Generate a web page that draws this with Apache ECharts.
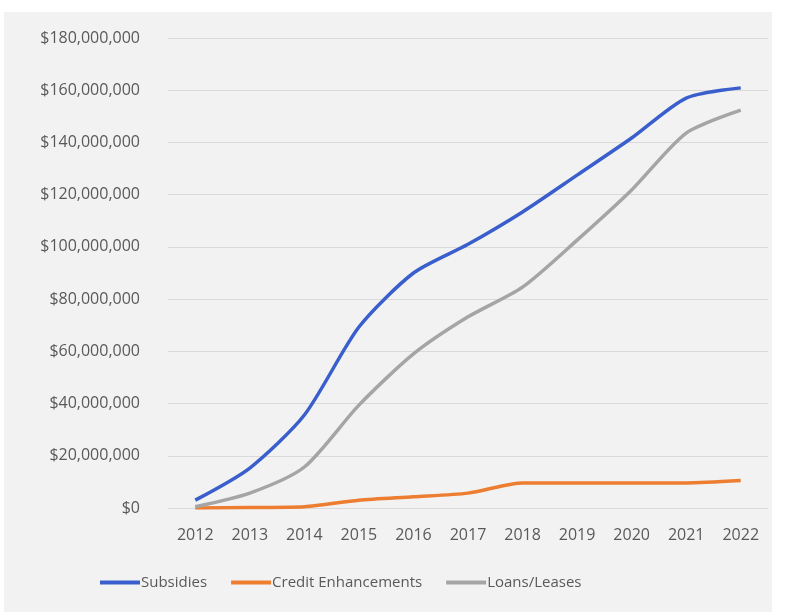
<!DOCTYPE html>
<html>
<head>
<meta charset="utf-8">
<script src="https://cdn.jsdelivr.net/npm/echarts@6/dist/echarts.min.js"></script>
<style>
html,body{margin:0;padding:0;background:#ffffff;}
#frame{position:absolute;left:4px;top:12px;width:768px;height:600px;background:#f2f2f2;}
#chart{position:absolute;left:0;top:0;width:785px;height:615px;}
</style>
</head>
<body>
<div id="frame"></div>
<div id="chart"></div>
<script>
var years = ['2012','2013','2014','2015','2016','2017','2018','2019','2020','2021','2022'];
var subsidies = [3000000, 15300000, 35600000, 69300000, 90000000, 101000000, 113400000, 127500000, 141700000, 157000000, 160900000];
var creditEnhancements = [0, 200000, 500000, 3000000, 4300000, 5700000, 9600000, 9600000, 9600000, 9600000, 10500000];
var loansLeases = [500000, 5700000, 15700000, 39400000, 59000000, 73200000, 84600000, 102600000, 121800000, 143600000, 152400000];
var seriesNames = ['Subsidies', 'Credit Enhancements', 'Loans/Leases'];

var chart = echarts.init(document.getElementById('chart'), null, {renderer:'canvas'});
var font = '"Open Sans", sans-serif';
function mk(name, data, color){
  return {name:name, type:'line', data:data, smooth:0.25, symbol:'none',
    lineStyle:{color:color, width:3.5}, itemStyle:{color:color}};
}
chart.setOption({
  backgroundColor:'transparent',
  animation:false,
  grid:{left:168, right:17, top:38, bottom:107},
  legend:{
    data:seriesNames, left:95, top:570, itemWidth:40, itemHeight:4, itemGap:24,
    icon:'rect',
    textStyle:{color:'#595959', fontSize:15, fontFamily:font, padding:[0,0,0,-4]}
  },
  xAxis:{
    type:'category', data:years, boundaryGap:true,
    axisLine:{show:false}, axisTick:{show:false},
    axisLabel:{color:'#595959', fontSize:16, fontFamily:font, margin:19}
  },
  yAxis:{
    type:'value', min:0, max:180000000, interval:20000000,
    axisLine:{show:false}, axisTick:{show:false},
    splitLine:{lineStyle:{color:'#d9d9d9', width:1}},
    axisLabel:{color:'#595959', fontSize:16, fontFamily:font, margin:28,
      formatter:function(v){return '$' + v.toLocaleString('en-US');}}
  },
  series:[
    mk(seriesNames[0], subsidies, '#3a5fcd'),
    mk(seriesNames[1], creditEnhancements, '#ed7d31'),
    mk(seriesNames[2], loansLeases, '#a5a5a5')
  ]
});
</script>
</body>
</html>
